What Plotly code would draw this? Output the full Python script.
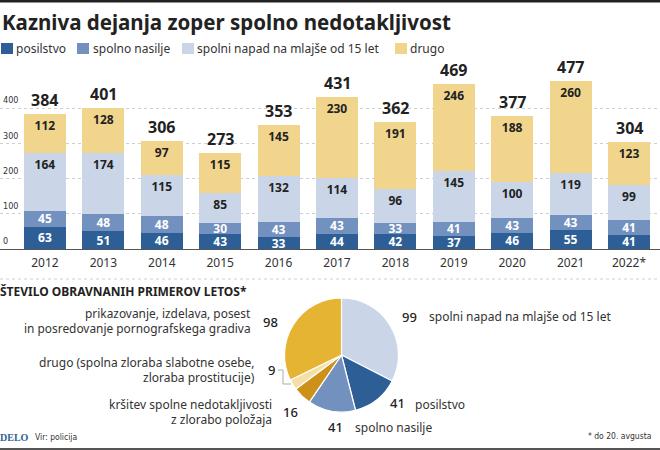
import plotly.graph_objects as go

years = ["2012","2013","2014","2015","2016","2017","2018","2019","2020","2021","2022*"]
posilstvo = [63,51,46,43,33,44,42,37,46,55,41]
nasilje = [45,48,48,30,43,43,33,41,43,43,41]
napad = [164,174,115,85,132,114,96,145,100,119,99]
drugo = [112,128,97,115,145,230,191,246,188,260,123]
totals = [384,401,306,273,353,431,362,469,377,477,304]
series_names = ["posilstvo","spolno nasilje","spolni napad na mlajše od 15 let","drugo"]
y_ticks = [0,100,200,300,400,500]
y_tick_labels = ["0","100","200","300","400",""]

pie_labels = ["spolni napad na mlajše od 15 let","posilstvo","spolno nasilje",
              "kršitev spolne nedotakljivosti z zlorabo položaja",
              "drugo (spolna zloraba slabotne osebe, zloraba prostitucije)",
              "prikazovanje, izdelava, posest in posredovanje pornografskega gradiva"]
pie_values = [99,41,41,16,9,98]

C = ["#2d5f96","#7391bf","#cbd5e8","#f1d58c"]
PIEC = ["#cbd5e8","#2d5f96","#7391bf","#cd9018","#f5dfa6","#e6b433"]
W, H = 660, 450
FONT = "Noto Sans"
NARROW = "DejaVu Sans Condensed"
DARK = "#222222"
TXT = "#333333"
px = lambda v: v / W
py = lambda v: 1 - v / H

fig = go.Figure()
for vals, name, col, tc, anc in zip([posilstvo,nasilje,napad,drugo], series_names, C,
                                    ["white","white",DARK,DARK], ["middle","middle","end","end"]):
    fig.add_bar(x=years, y=vals, name=name, marker=dict(color=col, line=dict(width=0)), width=0.72,
                text=vals, textposition="inside", insidetextanchor=anc, constraintext="none",
                textangle=0, textfont=dict(family=FONT, size=12, color=tc, weight="bold"), showlegend=False)
fig.add_pie(labels=pie_labels, values=pie_values, sort=False, direction="clockwise", rotation=0,
            marker=dict(colors=PIEC, line=dict(color="white", width=1.2)), textinfo="none", showlegend=False,
            domain=dict(x=[px(284.5), px(398.5)], y=[py(412), py(298)]))

fig.update_layout(
    width=W, height=H, margin=dict(l=0,r=0,t=0,b=0), paper_bgcolor="white", plot_bgcolor="white",
    barmode="stack", bargap=0.28, font=dict(family=FONT, color=TXT),
    xaxis=dict(domain=[0, 1], range=[-0.77, 10.53], type="category", showgrid=False,
               tickfont=dict(family=FONT, size=12, color=TXT), ticks="", ticklabelstandoff=2,
               showline=True, linecolor="#555555", linewidth=1.2),
    yaxis=dict(domain=[py(249), py(73)], range=[0,500], tickvals=y_ticks, ticktext=y_tick_labels,
               ticklabelposition="inside", ticklabelshift=-8, griddash="dot", gridcolor="#cfcfcf", gridwidth=1,
               tickfont=dict(family=NARROW, size=9, color=TXT), ticks="", zeroline=False, showline=False),
)

for i, t in enumerate(totals):
    fig.add_annotation(x=i, y=t, xref="x", yref="y", text=str(t), showarrow=False, yanchor="bottom",
                       yshift=3, borderpad=0, borderwidth=0,
                       font=dict(family=FONT, size=16, color=DARK, weight="bold"))

def note(x, y, text, size=12, anchor="left", color=TXT, weight="normal", family=FONT):
    fig.add_annotation(xref="paper", yref="paper", x=px(x), y=py(y), text=text, showarrow=False,
                       xanchor=anchor, yanchor="middle", align=anchor, borderpad=0, borderwidth=0,
                       font=dict(family=family, size=size, color=color, weight=weight))

note(2, 22, "Kazniva dejanja zoper spolno nedotakljivost", size=20.5, color=DARK, weight="bold")
for x0, xt, col, name in zip([1,77,182,395],[16,93,197,410], C, series_names):
    fig.add_shape(type="rect", xref="paper", yref="paper", x0=px(x0), x1=px(x0+12), y0=py(54), y1=py(43),
                  fillcolor=col, line=dict(width=0))
    note(xt, 48.5, name, size=12)

note(0, 291.5, "ŠTEVILO OBRAVNANIH PRIMEROV LETOS*", size=12, color=DARK, weight="bold")
note(251, 313, "prikazovanje, izdelava, posest", size=11.9, anchor="right")
note(251, 328, "in posredovanje pornografskega gradiva", size=11.9, anchor="right")
note(255, 362.5, "drugo (spolna zloraba slabotne osebe,", anchor="right")
note(255, 377, "zloraba prostitucije)", anchor="right")
note(272, 404, "kršitev spolne nedotakljivosti", anchor="right")
note(272, 419, "z zlorabo položaja", anchor="right")
for nx, ny, nt in [(270,322,"98"),(271,370,"9"),(290,412,"16"),(409,317,"99"),(397,403,"41"),(336,427,"41")]:
    note(nx, ny, nt, size=13, anchor="center", color=DARK, weight=500)
note(429, 316.5, "spolni napad na mlajše od 15 let")
note(415, 404, "posilstvo")
note(355, 427, "spolno nasilje")
note(0, 437, "DELO", size=10, color="#2d5f96", weight="bold", family="Liberation Serif")
note(35, 437, "Vir: policija", size=8.5, color=TXT, family=NARROW)
note(651, 436, "* do 20. avgusta", size=8.5, anchor="right", color=TXT, family=NARROW)

# frame rules, section divider and the leader of the "9" label
fig.add_shape(type="rect", xref="paper", yref="paper", x0=0, x1=1, y0=py(2.5), y1=1, fillcolor="#222222", line=dict(width=0))
fig.add_shape(type="rect", xref="paper", yref="paper", x0=0, x1=1, y0=0, y1=py(448), fillcolor="#555555", line=dict(width=0))
fig.add_shape(type="line", xref="paper", yref="paper", x0=0, x1=1, y0=py(279), y1=py(279), line=dict(color="#cfcfcf", width=1, dash="dot"))
fig.add_shape(type="path", xref="paper", yref="paper",
              path=f"M {px(278)} {py(370)} L {px(283)} {py(370)} L {px(283)} {py(384)} L {px(291)} {py(384)}",
              line=dict(color="#aaaaaa", width=1))

fig.write_html("out.html", post_script="document.body.style.margin='0';", config=dict(displayModeBar=False))
